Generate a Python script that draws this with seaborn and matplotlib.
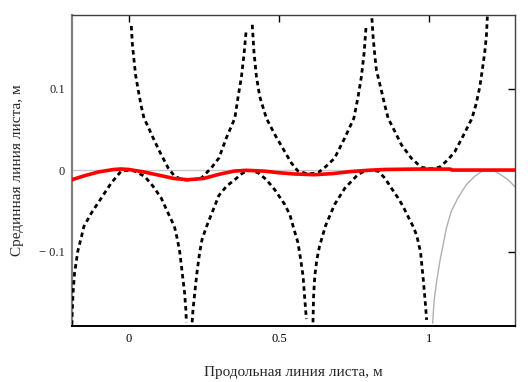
import matplotlib
matplotlib.use("Agg")
import matplotlib.pyplot as plt
import seaborn as sns
import pandas as pd

# curve readings (x in m, y in m)
u1_x = [0.0087, 0.012, 0.0176, 0.023, 0.031, 0.041, 0.051, 0.064, 0.081, 0.103, 0.131, 0.153, 0.18, 0.2,
        0.22, 0.242, 0.275, 0.3, 0.325, 0.353, 0.364, 0.375, 0.384, 0.391]
u1_y = [0.1775, 0.156, 0.1357, 0.117, 0.100, 0.080, 0.064, 0.054, 0.040, 0.023, 0.003, -0.0074, -0.0116, -0.012,
        -0.0112, -0.0095, 0.003, 0.015, 0.040, 0.064, 0.0905, 0.115, 0.144, 0.173]

u2_x = [0.411, 0.417, 0.425, 0.436, 0.458, 0.486, 0.519, 0.541, 0.563, 0.596, 0.63, 0.657, 0.685, 0.719,
        0.749, 0.763, 0.774, 0.783, 0.79]
u2_y = [0.179, 0.144, 0.115, 0.0905, 0.064, 0.044, 0.023, 0.009, -0.001, -0.0045, -0.003, 0.005, 0.015, 0.040,
        0.064, 0.0905, 0.115, 0.144, 0.179]

u3_x = [0.809, 0.813, 0.818, 0.824, 0.840, 0.852, 0.863, 0.885, 0.907, 0.94, 0.973, 1.006, 1.035, 1.062,
        1.085, 1.112, 1.142, 1.156, 1.168, 1.176, 1.184, 1.19, 1.193]
u3_y = [0.187, 0.164, 0.144, 0.123, 0.099, 0.080, 0.064, 0.048, 0.0315, 0.015, 0.0037, 0.002, 0.004, 0.013,
        0.023, 0.042, 0.064, 0.082, 0.103, 0.123, 0.144, 0.166, 0.189]

l0_x = [-0.189, -0.1876, -0.185, -0.18, -0.169, -0.158, -0.149, -0.124, -0.091, -0.058, -0.025, 0.0, 0.02,
        0.053, 0.081, 0.108, 0.131, 0.152, 0.162, 0.17, 0.178, 0.186, 0.19, 0.192]
l0_y = [-0.19, -0.171, -0.15, -0.126, -0.099, -0.083, -0.069, -0.0525, -0.034, -0.0156, -0.001, 0.0, -0.001,
        -0.0074, -0.0197, -0.034, -0.0525, -0.069, -0.085, -0.101, -0.126, -0.151, -0.171, -0.187]

l1_x = [0.211, 0.214, 0.22, 0.227, 0.236, 0.244, 0.258, 0.3, 0.325, 0.353, 0.375, 0.391, 0.405, 0.43, 0.458,
        0.486, 0.519, 0.536, 0.547, 0.563, 0.572, 0.58, 0.585, 0.591]
l1_y = [-0.187, -0.171, -0.15, -0.126, -0.101, -0.085, -0.07, -0.031, -0.0197, -0.0115, -0.0045, -0.001, 0.0,
        -0.003, -0.0115, -0.024, -0.042, -0.0546, -0.069, -0.089, -0.1095, -0.13, -0.155, -0.183]

l2_x = [0.613, 0.615, 0.619, 0.626, 0.635, 0.655, 0.685, 0.719, 0.741, 0.763, 0.785, 0.805, 0.829, 0.852,
        0.874, 0.896, 0.912, 0.929, 0.946, 0.958, 0.971, 0.98, 0.986, 0.991]
l2_y = [-0.187, -0.155, -0.13, -0.1095, -0.093, -0.068, -0.042, -0.022, -0.0135, -0.005, -0.001, 0.0, -0.001,
        -0.0095, -0.022, -0.034, -0.044, -0.0566, -0.069, -0.08, -0.101, -0.135, -0.16, -0.184]

g_x = [1.011, 1.016, 1.025, 1.036, 1.057, 1.073, 1.095, 1.123, 1.151, 1.173, 1.19, 1.218, 1.24, 1.262, 1.284]
g_y = [-0.188, -0.16, -0.135, -0.110, -0.071, -0.0504, -0.034, -0.0177, -0.0074, -0.0017, 0.0, -0.0012,
       -0.006, -0.0116, -0.020]

red_x = [-0.189, -0.15, -0.1, -0.05, -0.025, 0.0, 0.05, 0.1, 0.15, 0.197, 0.25, 0.3, 0.35, 0.391, 0.45, 0.5,
         0.55, 0.619, 0.68, 0.74, 0.796, 0.85, 0.95, 1.07, 1.075, 1.284]
red_y = [-0.0116, -0.007, -0.002, 0.001, 0.0016, 0.001, -0.002, -0.006, -0.010, -0.0116, -0.010, -0.005, -0.001,
         0.0, -0.001, -0.003, -0.0045, -0.0054, -0.004, -0.0015, 0.0, 0.001, 0.0015, 0.0015, 0.0003, 0.0003]

x_ticks = [0, 0.5, 1]
x_tick_labels = ["0", "0.5", "1"]
y_ticks = [-0.1, 0, 0.1]
y_tick_labels = ["\u2212 0.1", "0", "0.1"]

sns.set_style("white")
plt.rcParams["font.family"] = ["Liberation Serif", "DejaVu Serif"]

fig = plt.figure(figsize=(5.28, 3.82), dpi=100)
ax = fig.add_axes([72 / 528, 1 - 326 / 382, 442.7 / 528, 311 / 382])

ax.axhline(0, color="#c8c8c8", lw=1, zorder=1)

# gray solid arch
sns.lineplot(x=g_x, y=g_y, ax=ax, color="#b0b0b0", lw=1, sort=False, estimator=None, zorder=2)

dash = (0, (1.6, 1.3))
for xs, ys in [(u1_x, u1_y), (u2_x, u2_y), (u3_x, u3_y), (l0_x, l0_y), (l1_x, l1_y), (l2_x, l2_y)]:
    df = pd.DataFrame({"x": xs, "y": ys})
    sns.lineplot(data=df, x="x", y="y", ax=ax, color="black", lw=2, linestyle=dash,
                 sort=False, estimator=None, zorder=3)

sns.lineplot(x=red_x, y=red_y, ax=ax, color="#ff0000", lw=2.6, sort=False, estimator=None, zorder=4)

ax.set_xlim(-0.1886, 1.284)
ax.set_ylim(-0.1915, 0.191)
ax.set_xticks(x_ticks)
ax.set_xticklabels(x_tick_labels)
ax.set_yticks(y_ticks)
ax.set_yticklabels(y_tick_labels)
ax.tick_params(direction="in", length=5, width=1, top=True, right=True,
               labelsize=9, pad=5, colors="black")
ax.tick_params(axis="y", labelcolor="#222222")

for side in ["top", "right"]:
    ax.spines[side].set_color("#404040")
    ax.spines[side].set_linewidth(1)
ax.spines["left"].set_color("#808080")
ax.spines["left"].set_linewidth(1.6)
ax.spines["bottom"].set_color("black")
ax.spines["bottom"].set_linewidth(1.4)

ax.set_xlabel("Продольная линия листа, м", fontsize=11, labelpad=15)
ax.set_ylabel("Срединная линия листа, м", fontsize=11, labelpad=11)

fig.savefig("out.png", dpi=100)
